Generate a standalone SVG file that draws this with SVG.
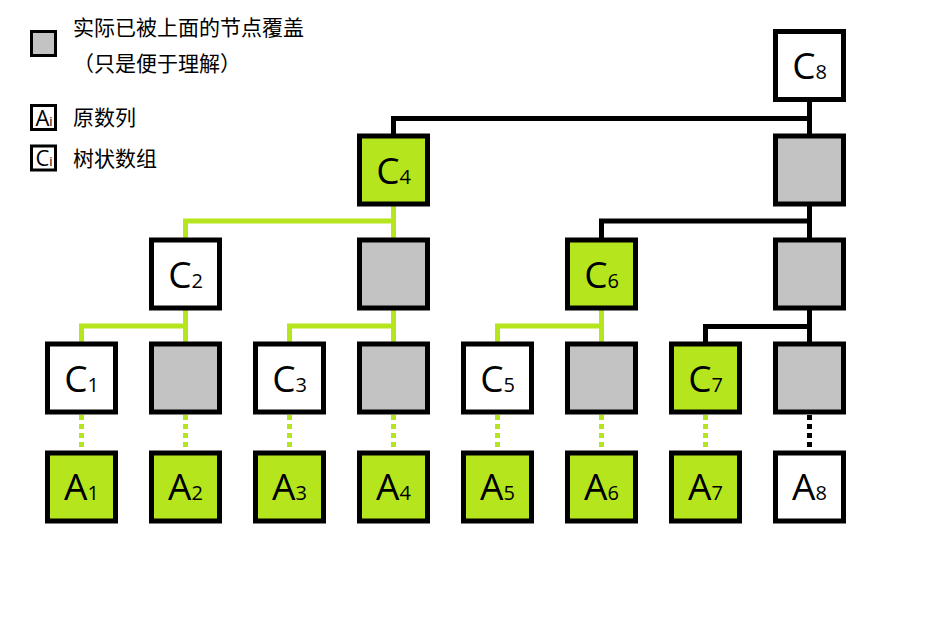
<svg xmlns="http://www.w3.org/2000/svg" width="936" height="623" viewBox="0 0 936 623">
<style>
.bx{stroke:#000;stroke-width:5}
.w{fill:#fff}.g{fill:#b5e61d}.k{fill:#c3c3c3}
.lb{font-family:"Open Sans","Noto Sans","DejaVu Sans",sans-serif;font-size:37px;fill:#000;text-anchor:middle}
.sb{font-size:20px}
.lk{fill:none;stroke:#000;stroke-width:5;stroke-linejoin:miter}
.lg{fill:none;stroke:#b5e61d;stroke-width:5;stroke-linejoin:miter}
.dk{stroke:#000;stroke-width:5;stroke-dasharray:5 4}
.dg{stroke:#b5e61d;stroke-width:5;stroke-dasharray:5 4}
.cn{font-family:"Noto Sans CJK SC","Noto Sans",sans-serif;font-size:21px;fill:#000}
.lgb{stroke:#000;stroke-width:3}
.ll{font-family:"Open Sans","Noto Sans",sans-serif;font-size:22px;fill:#000;text-anchor:middle}
.ls{font-size:13px}
</style>
<rect width="936" height="623" fill="#fff"/>
<g id="legend">
<rect class="lgb k" x="31.5" y="31.5" width="24" height="24"/>
<text class="cn" x="73" y="35">实际已被上面的节点覆盖</text>
<text class="cn" x="73" y="71">（只是便于理解）</text>
<rect class="lgb w" x="31.5" y="105.5" width="24" height="24"/>
<text class="ll" x="44" y="126">A<tspan class="ls">i</tspan></text>
<text class="cn" x="73" y="125">原数列</text>
<rect class="lgb w" x="31.5" y="146" width="24" height="24"/>
<text class="ll" x="44" y="166">C<tspan class="ls">i</tspan></text>
<text class="cn" x="73" y="166">树状数组</text>
</g>
<g id="connectors">
<path class="lk" d="M393.5,136 V118.5 H809.5 M809.5,99 V136"/>
<path class="lk" d="M601.5,240 V221 H809.5 M809.5,204 V240"/>
<path class="lk" d="M705.5,344 V326.5 H809.5 M809.5,308 V344"/>
<path class="lg" d="M185.5,240 V221 H393.5 M393.5,204 V240"/>
<path class="lg" d="M81.5,344 V326 H185.5 M185.5,308 V344"/>
<path class="lg" d="M289.5,344 V326 H393.5 M393.5,308 V344"/>
<path class="lg" d="M497.5,344 V326 H601.5 M601.5,308 V344"/>
<path class="dg" d="M81.5,415 V451"/>
<path class="dg" d="M185.5,415 V451"/>
<path class="dg" d="M289.5,415 V451"/>
<path class="dg" d="M393.5,415 V451"/>
<path class="dg" d="M497.5,415 V451"/>
<path class="dg" d="M601.5,415 V451"/>
<path class="dg" d="M705.5,415 V451"/>
<path class="dk" d="M809.5,415 V451"/>
</g>
<g id="C8"><rect class="bx w" x="775.5" y="31.5" width="68" height="68"/><text class="lb" x="809.5" y="79">C<tspan class="sb">8</tspan></text></g>
<g id="C4"><rect class="bx g" x="359.5" y="136" width="68" height="68"/><text class="lb" x="393.5" y="183.5">C<tspan class="sb">4</tspan></text></g>
<g id="H8_1"><rect class="bx k" x="775.5" y="136" width="68" height="68"/></g>
<g id="C2"><rect class="bx w" x="151.5" y="240" width="68" height="68"/><text class="lb" x="185.5" y="288">C<tspan class="sb">2</tspan></text></g>
<g id="H4_2"><rect class="bx k" x="359.5" y="240" width="68" height="68"/></g>
<g id="C6"><rect class="bx g" x="567.5" y="240" width="68" height="68"/><text class="lb" x="601.5" y="288">C<tspan class="sb">6</tspan></text></g>
<g id="H8_2"><rect class="bx k" x="775.5" y="240" width="68" height="68"/></g>
<g id="C1"><rect class="bx w" x="47.5" y="344" width="68" height="68"/><text class="lb" x="81.5" y="392">C<tspan class="sb">1</tspan></text></g>
<g id="H2_3"><rect class="bx k" x="151.5" y="344" width="68" height="68"/></g>
<g id="C3"><rect class="bx w" x="255.5" y="344" width="68" height="68"/><text class="lb" x="289.5" y="392">C<tspan class="sb">3</tspan></text></g>
<g id="H4_3"><rect class="bx k" x="359.5" y="344" width="68" height="68"/></g>
<g id="C5"><rect class="bx w" x="463.5" y="344" width="68" height="68"/><text class="lb" x="497.5" y="392">C<tspan class="sb">5</tspan></text></g>
<g id="H6_3"><rect class="bx k" x="567.5" y="344" width="68" height="68"/></g>
<g id="C7"><rect class="bx g" x="671.5" y="344" width="68" height="68"/><text class="lb" x="705.5" y="392">C<tspan class="sb">7</tspan></text></g>
<g id="H8_3"><rect class="bx k" x="775.5" y="344" width="68" height="68"/></g>
<g id="A1"><rect class="bx g" x="47.5" y="453" width="68" height="68"/><text class="lb" x="81.5" y="500">A<tspan class="sb">1</tspan></text></g>
<g id="A2"><rect class="bx g" x="151.5" y="453" width="68" height="68"/><text class="lb" x="185.5" y="500">A<tspan class="sb">2</tspan></text></g>
<g id="A3"><rect class="bx g" x="255.5" y="453" width="68" height="68"/><text class="lb" x="289.5" y="500">A<tspan class="sb">3</tspan></text></g>
<g id="A4"><rect class="bx g" x="359.5" y="453" width="68" height="68"/><text class="lb" x="393.5" y="500">A<tspan class="sb">4</tspan></text></g>
<g id="A5"><rect class="bx g" x="463.5" y="453" width="68" height="68"/><text class="lb" x="497.5" y="500">A<tspan class="sb">5</tspan></text></g>
<g id="A6"><rect class="bx g" x="567.5" y="453" width="68" height="68"/><text class="lb" x="601.5" y="500">A<tspan class="sb">6</tspan></text></g>
<g id="A7"><rect class="bx g" x="671.5" y="453" width="68" height="68"/><text class="lb" x="705.5" y="500">A<tspan class="sb">7</tspan></text></g>
<g id="A8"><rect class="bx w" x="775.5" y="453" width="68" height="68"/><text class="lb" x="809.5" y="500">A<tspan class="sb">8</tspan></text></g>
</svg>
